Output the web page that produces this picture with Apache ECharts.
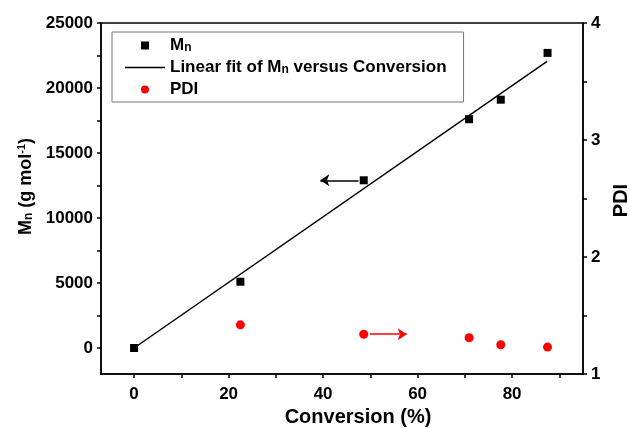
<!DOCTYPE html>
<html>
<head>
<meta charset="utf-8">
<script src="https://cdn.jsdelivr.net/npm/echarts@6/dist/echarts.min.js"></script>
<style>
    html, body { margin: 0; padding: 0; background: #fff; }
    #chart { width: 630px; height: 428px; }
</style>
</head>
<body>
<div id="chart"></div>
<script>
    // values
    const conversion = [0, 22.5, 48.6, 70.9, 77.6, 87.5]
    const mnValues = [0, 5100, 12900, 17600, 19100, 22700]
    const pdiConversion = [22.5, 48.6, 70.9, 77.6, 87.5]
    const pdiValues = [1.42, 1.34, 1.31, 1.25, 1.23]
    const fitConversion = [0, 87.4]
    const fitMn = [0, 22050]

    const xLabels = [0, 20, 40, 60, 80]
    const xTicks = [0, 10, 20, 30, 40, 50, 60, 70, 80, 90]
    const yLabels = [0, 5000, 10000, 15000, 20000, 25000]
    const yTicks = [0, 2500, 5000, 7500, 10000, 12500, 15000, 17500, 20000, 22500, 25000]

    const FONT = 'Liberation Sans'

    const myChart = echarts.init(document.getElementById('chart'))

    const zip = (a, b) => a.map((v, i) => [v, b[i]])

    const axisBase = {
        axisLine: {show: true, onZero: false, lineStyle: {color: '#000', width: 1.5}},
        axisTick: {show: true, inside: false, length: 4, lineStyle: {color: '#000', width: 1.5}},
        axisLabel: {
            color: '#000', fontFamily: FONT, fontWeight: 'bold', fontSize: 17,
            formatter: (v) => String(v)
        },
        splitLine: {show: false}
    }

    const richText = (size) => ({
        a: {fontFamily: FONT, fontWeight: 'bold', fontSize: size, color: '#000'},
        s: {fontFamily: FONT, fontWeight: 'bold', fontSize: Math.round(size * 0.68), color: '#000', verticalAlign: 'bottom'},
        p: {fontFamily: FONT, fontWeight: 'bold', fontSize: Math.round(size * 0.62), color: '#000', verticalAlign: 'top'}
    })

    let option = {
        animation: false,
        grid: {
            left: 101,
            right: 47,
            top: 23,
            bottom: 54,
            outerBoundsMode: 'none',
            containLabel: false,
            show: true,
            borderColor: '#000',
            borderWidth: 1.5
        },
        legend: {
            left: 112,
            top: 32,
            orient: 'vertical',
            itemWidth: 40,
            itemHeight: 8,
            itemGap: 5,
            padding: [5, 17, 4, 13],
            borderColor: '#777',
            borderWidth: 1,
            selectedMode: false,
            data: [
                {name: 'Mn', icon: 'path://M0,0H10V10H0Z'},
                {name: 'Linear fit of Mn versus Conversion', icon: 'path://M0,0H40V1.5H0Z'},
                {name: 'PDI', icon: 'circle'}
            ],
            formatter: function (name) {
                if (name === 'Mn') return '{a|M}{s|n}'
                if (name === 'PDI') return '{a|PDI}'
                return '{a|Linear fit of M}{s|n}{a| versus Conversion}'
            },
            textStyle: {
                fontFamily: FONT,
                fontWeight: 'bold',
                fontSize: 17,
                color: '#000',
                rich: richText(17)
            }
        },
        xAxis: Object.assign({}, axisBase, {
            type: 'value',
            min: -7,
            max: 95,
            name: 'Conversion (%)',
            nameLocation: 'middle',
            nameGap: 25,
            nameTextStyle: {
                fontFamily: FONT, fontWeight: 'bold', fontSize: 20, color: '#000',
                padding: [0, 0, 0, 32]
            },
            axisTick: Object.assign({}, axisBase.axisTick, {customValues: xTicks}),
            axisLabel: Object.assign({}, axisBase.axisLabel, {customValues: xLabels, margin: 12})
        }),
        yAxis: [
            Object.assign({}, axisBase, {
                type: 'value',
                position: 'left',
                min: -2000,
                max: 25000,
                name: '{a|M}{s|n}{a| (g mol}{p|-1}{a|)}',
                nameLocation: 'middle',
                nameGap: 63,
                nameTextStyle: {
                    fontFamily: FONT, fontWeight: 'bold', fontSize: 18, color: '#000',
                    padding: [0, 0, 0, 24],
                    rich: richText(18)
                },
                axisTick: Object.assign({}, axisBase.axisTick, {customValues: yTicks}),
                axisLabel: Object.assign({}, axisBase.axisLabel, {customValues: yLabels, margin: 8})
            }),
            Object.assign({}, axisBase, {
                type: 'value',
                position: 'right',
                min: 1,
                max: 4,
                interval: 1,
                name: 'PDI',
                nameLocation: 'middle',
                nameGap: 21,
                nameTextStyle: {
                    fontFamily: FONT, fontWeight: 'bold', fontSize: 20, color: '#000',
                    padding: [0, 4, 0, 0]
                },
                minorTick: {show: true, splitNumber: 2, length: 4, lineStyle: {color: '#000', width: 1.5}},
                axisLabel: Object.assign({}, axisBase.axisLabel, {margin: 8})
            })
        ],
        series: [
            {
                name: 'Mn',
                type: 'scatter',
                symbol: 'rect',
                symbolSize: 8,
                itemStyle: {color: '#000', opacity: 1},
                data: zip(conversion, mnValues),
                markLine: {
                    silent: true,
                    symbol: ['none', 'arrow'],
                    symbolSize: 9,
                    label: {show: false},
                    lineStyle: {color: '#000', width: 1.5, type: 'solid'},
                    data: [[{coord: [47.5, 12900]}, {coord: [39.4, 12900]}]]
                }
            },
            {
                name: 'Linear fit of Mn versus Conversion',
                type: 'line',
                symbol: 'none',
                lineStyle: {color: '#000', width: 1.5},
                itemStyle: {color: '#000'},
                data: zip(fitConversion, fitMn)
            },
            {
                name: 'PDI',
                type: 'scatter',
                yAxisIndex: 1,
                symbol: 'circle',
                symbolSize: 9,
                itemStyle: {color: '#ff0000', opacity: 1},
                data: zip(pdiConversion, pdiValues),
                markLine: {
                    silent: true,
                    symbol: ['none', 'arrow'],
                    symbolSize: 9,
                    label: {show: false},
                    lineStyle: {color: '#ff0000', width: 1.5, type: 'solid'},
                    data: [[{coord: [49.9, 1.34]}, {coord: [57.7, 1.34]}]]
                }
            }
        ]
    };

    option && myChart.setOption(option);
</script>
</body>
</html>
